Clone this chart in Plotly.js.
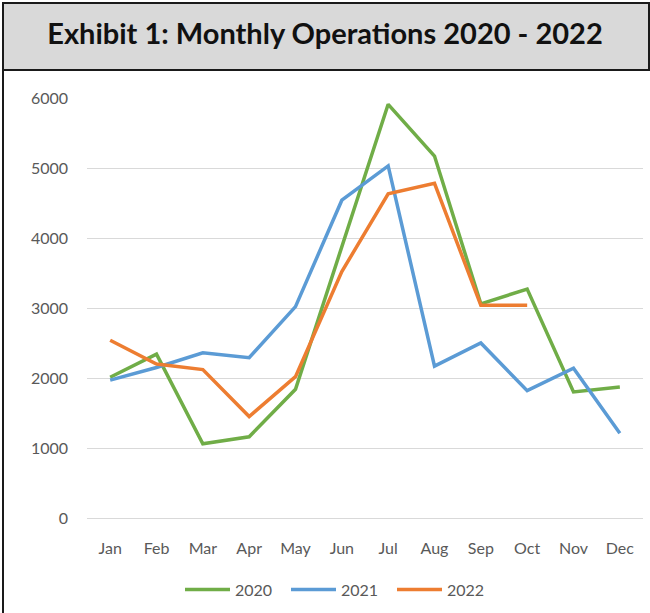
<!DOCTYPE html>
<html>
<head>
<meta charset="utf-8">
<script src="https://cdn.plot.ly/plotly-3.0.1.min.js"></script>
<style>
  html, body { margin: 0; padding: 0; background: #ffffff; }
  #wrap { position: relative; width: 650px; height: 613px; overflow: hidden; background: #fff; }
  #titlebox { position: absolute; left: 2px; top: 2px; width: 644px; height: 65px; background: #d9d9d9; border: 2px solid #1a1a1a; }
  #leftline { position: absolute; left: 2px; top: 70px; width: 2px; height: 543px; background: #1a1a1a; }
  #chart { position: absolute; left: 0; top: 0; width: 650px; height: 613px; }
</style>
</head>
<body>
<div id="wrap">
  <div id="titlebox"></div>
  <div id="leftline"></div>
  <div id="chart"></div>
</div>
<script>
const months = ["Jan","Feb","Mar","Apr","May","Jun","Jul","Aug","Sep","Oct","Nov","Dec"];
const ops2020 = [2010, 2340, 1060, 1160, 1840, 3880, 5910, 5170, 3060, 3270, 1800, 1870];
const ops2021 = [1970, 2150, 2360, 2290, 3020, 4540, 5030, 2170, 2500, 1820, 2140, 1210];
const ops2022 = [2540, 2200, 2120, 1450, 2020, 3520, 4630, 4780, 3040, 3040];
const seriesNames = ["2020", "2021", "2022"];
const yTicks = [0, 1000, 2000, 3000, 4000, 5000, 6000];

const colors = ["#70ad47", "#5b9bd5", "#ed7d31"];
const allSeries = [ops2020, ops2021, ops2022];
const font = "Lato, 'Open Sans', sans-serif";

const traces = allSeries.map((vals, i) => ({
  type: "scatter",
  mode: "lines",
  name: seriesNames[i],
  x: months.slice(0, vals.length),
  y: vals,
  line: { color: colors[i], width: 3.5 },
  hoverinfo: "x+y+name"
}));

const layout = {
  width: 650,
  height: 613,
  paper_bgcolor: "rgba(0,0,0,0)",
  plot_bgcolor: "rgba(0,0,0,0)",
  margin: { l: 87, r: 7, t: 98, b: 92 },
  title: {
    text: "<b>Exhibit 1: Monthly Operations 2020 - 2022</b>",
    font: { family: font, size: 29, color: "#111111" },
    x: 0.5, xanchor: "center", xref: "container",
    y: 1 - 34 / 613, yanchor: "middle", yref: "container"
  },
  xaxis: {
    type: "category",
    categoryorder: "array",
    categoryarray: months,
    range: [-0.5, 11.5],
    showgrid: false,
    zeroline: false,
    showline: false,
    ticks: "",
    ticklabelstandoff: 19,
    tickfont: { family: font, size: 16, color: "#595959" },
    fixedrange: true
  },
  yaxis: {
    range: [0, 6000],
    tickvals: yTicks,
    ticktext: yTicks.map(String),
    showgrid: true,
    gridcolor: "#d9d9d9",
    gridwidth: 1,
    zeroline: true,
    zerolinecolor: "#d9d9d9",
    zerolinewidth: 1,
    showline: false,
    ticks: "",
    ticklabelstandoff: 18,
    tickfont: { family: font, size: 16, color: "#595959" },
    fixedrange: true
  },
  showlegend: true,
  legend: {
    orientation: "h",
    x: (339 - 87) / 556, xanchor: "center",
    y: -72 / 423, yanchor: "middle",
    font: { family: font, size: 16, color: "#595959" },
    bgcolor: "rgba(0,0,0,0)",
    itemwidth: 45,
    entrywidth: 46,
    traceorder: "normal"
  }
};

Plotly.newPlot("chart", traces, layout, { displayModeBar: false, staticPlot: true });
</script>
</body>
</html>
